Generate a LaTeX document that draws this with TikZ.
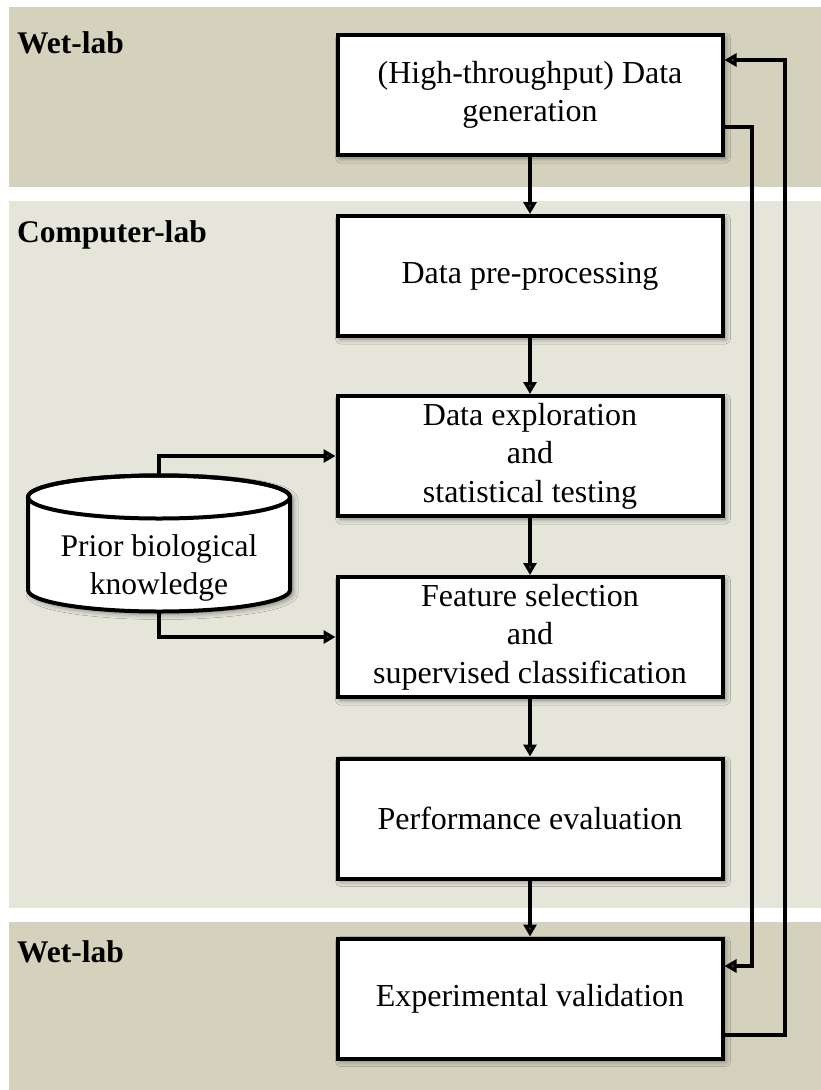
\documentclass[tikz,border=0pt]{standalone}
\usepackage{fontspec}
\setmainfont{Liberation Serif}
\usetikzlibrary{arrows.meta,shadows.blur}

\definecolor{wetband}{RGB}{212,209,188}
\definecolor{compband}{RGB}{229,229,217}

\tikzset{
  band/.style={fill=#1,draw=none},
  lablabel/.style={anchor=base west,inner sep=0pt,font=\fontsize{31.5}{38}\selectfont\bfseries},
  stepbox/.style={draw,line width=4pt,fill=white,minimum width=385pt,minimum height=120pt,
    align=center,inner sep=0pt,font=\fontsize{32}{38.5}\selectfont,
    blur shadow={shadow xshift=3pt,shadow yshift=-3pt,shadow blur radius=5pt,shadow opacity=45}},
  arr/.style={line width=4pt,-{Triangle[length=12pt,width=13pt]}},
  link/.style={line width=4pt},
}

\begin{document}
\begin{tikzpicture}[x=1pt,y=1pt]
  \useasboundingbox (0,0) rectangle (821,-1090);

  % lab zones
  \path[band=wetband]  (9,-7)   rectangle (821,-187);
  \path[band=compband] (9,-201) rectangle (821,-908);
  \path[band=wetband]  (9,-922) rectangle (821,-1090);

  \node[lablabel] (wet1) at (17,-53)  {Wet-lab};
  \node[lablabel] (comp) at (17,-242) {Computer-lab};
  \node[lablabel] (wet2) at (17,-962) {Wet-lab};

  % workflow steps
  \node[stepbox] (gen)  at (530,-95)    {(High-throughput) Data\\generation};
  \node[stepbox] (pre)  at (530,-276)   {Data pre-processing};
  \node[stepbox] (expl) at (530,-456)   {Data exploration\\and\\statistical testing};
  \node[stepbox] (feat) at (530,-637)   {Feature selection\\and\\supervised classification};
  \node[stepbox] (perf) at (530,-818.5) {Performance evaluation};
  \node[stepbox] (val)  at (530,-998.5) {Experimental validation};

  % knowledge base (cylinder)
  \path[fill=white,draw,line width=4pt,line join=round,
        blur shadow={shadow xshift=3pt,shadow yshift=-3pt,shadow blur radius=5pt,shadow opacity=45}]
    (28,-497) -- (28,-590)
    arc[start angle=180,end angle=360,x radius=131pt,y radius=21.5pt]
    -- (290,-497)
    arc[start angle=0,end angle=180,x radius=131pt,y radius=21.5pt] -- cycle;
  \draw[line width=4pt] (159,-497) ellipse[x radius=131pt,y radius=21.5pt];
  \node[align=center,inner sep=0pt,font=\fontsize{31.5}{38.5}\selectfont] (prior) at (159,-568)
    {Prior biological\\knowledge};
  \coordinate (cyltop) at (159,-475.5);
  \coordinate (cylbot) at (159,-611.5);

  % main flow
  \draw[arr] (gen)  -- (pre);
  \draw[arr] (pre)  -- (expl);
  \draw[arr] (expl) -- (feat);
  \draw[arr] (feat) -- (perf);
  \draw[arr] (perf) -- (val);

  % prior knowledge feeds
  \draw[arr] (cyltop) |- (expl.west);
  \draw[arr] (cylbot) |- (feat.west);

  % feedback loops on the right
  \coordinate (innerturn) at (752,-966);
  \coordinate (outerturn) at (785,-60);
  \draw[arr,line join=miter] ([yshift=-32pt]gen.east) -| (innerturn) -- ([yshift=32.5pt]val.east);
  \draw[arr,line join=miter] ([yshift=-36.5pt]val.east) -| (outerturn) -- ([yshift=35pt]gen.east);
\end{tikzpicture}
\end{document}
